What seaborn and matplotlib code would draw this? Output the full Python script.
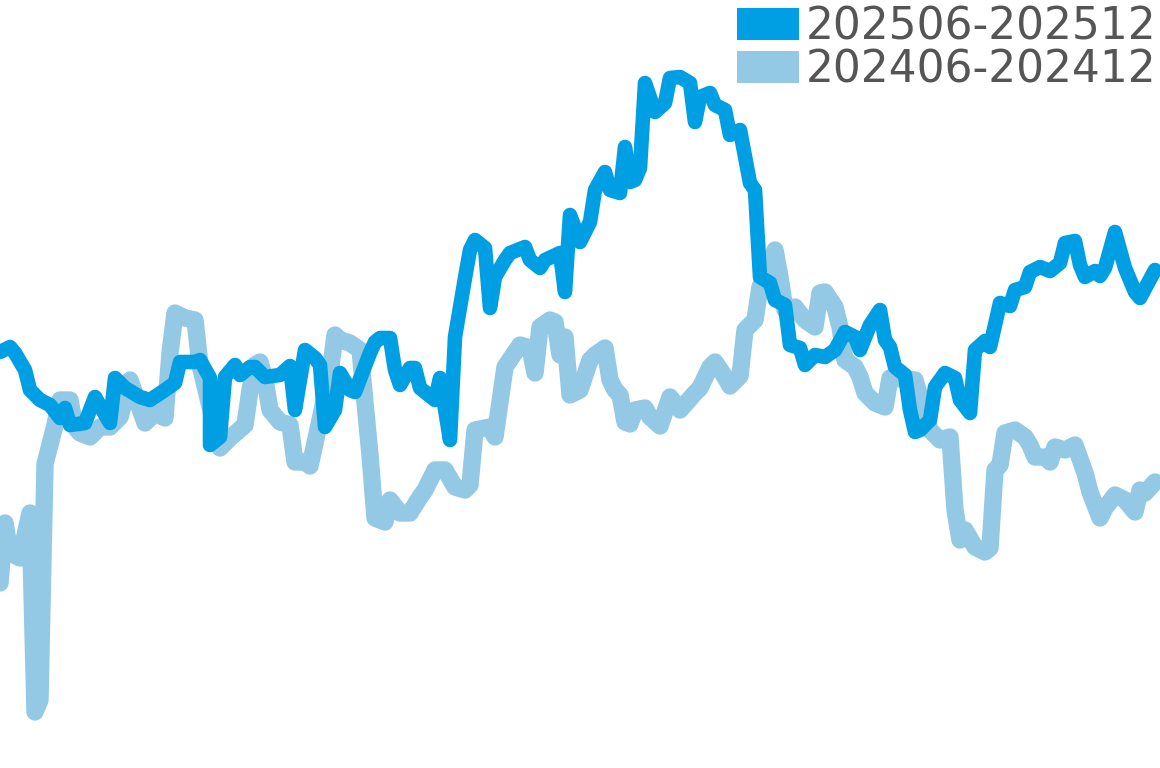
import pandas as pd
import seaborn as sns
import matplotlib.pyplot as plt
from matplotlib.patches import Patch

# day offset from start of period, and index value
days_2025 = [0, 2, 3, 5, 6, 8, 10, 12, 13, 14, 17, 19, 22, 23, 25, 28, 30, 33, 35, 36,
             39, 40, 42, 42, 44, 45, 47, 48, 50, 51, 53, 56, 58, 59, 61, 63, 64, 65, 67, 68,
             70, 71, 74, 75, 76, 78, 79, 80, 82, 83, 84, 87, 88, 90, 91, 93, 94, 95, 97, 98,
             99, 101, 102, 105, 106, 108, 109, 112, 113, 114, 116, 118, 119, 121, 122, 124, 125, 126, 127, 128,
             129, 131, 133, 134, 136, 138, 139, 140, 142, 143, 145, 146, 148, 150, 151, 152, 154, 155, 157, 158,
             160, 161, 163, 165, 167, 169, 171, 172, 174, 176, 177, 178, 179, 181, 182, 183, 184, 186, 187, 189,
             191, 192, 194, 195, 197, 198, 200, 202, 203, 205, 206, 208, 210, 212, 213, 215, 216, 217, 219, 220,
             221, 223, 225, 227, 228, 231]
vals_2025 = [208, 210.5, 207.5, 199, 189, 184, 181.5, 175, 180, 171.5, 172.5, 185.5, 172.5, 195, 190, 185.5, 184, 189, 192.5, 203,
             203, 204, 195, 161.5, 165.5, 195.5, 201.5, 196.5, 200.5, 200.5, 195.5, 196.5, 201, 179, 209, 205, 201.5, 170.5, 179, 197.5,
             189, 188, 207.5, 213, 215, 215, 199, 191.5, 200, 200, 190, 184, 195, 164, 215.5, 245, 259, 264, 260, 230,
             245.5, 254, 257.5, 260.5, 254, 250, 254, 257.5, 238, 276.5, 263, 273, 289, 298, 289, 287.5, 310.5, 293, 294, 300,
             342.5, 328, 332.5, 345, 345.5, 342.5, 323, 335.5, 337.5, 331.5, 329, 316.5, 319, 292.5, 289, 245.5, 242.5, 234, 231.5, 211.5,
             210, 201.5, 206.5, 205.5, 209, 218, 215.5, 209, 221.5, 229, 214, 210.5, 200.5, 196.5, 179, 168, 169, 174, 190.5, 197.5,
             195, 184, 177.5, 209, 213.5, 210.5, 232.5, 231, 239, 240.5, 248, 250.5, 248.5, 252.5, 262.5, 263.5, 251.5, 245.5, 248.5, 246,
             250, 268, 250, 238, 235, 249]

days_2024 = [0, 1, 2, 4, 6, 7, 8, 9, 11, 12, 14, 15, 16, 18, 20, 22, 24, 26, 29, 31,
             33, 34, 35, 37, 39, 40, 44, 46, 49, 50, 51, 52, 53, 54, 56, 58, 59, 61, 62, 64,
             66, 67, 68, 70, 72, 73, 74, 75, 77, 78, 80, 82, 84, 85, 87, 89, 91, 93, 94, 95,
             98, 99, 101, 104, 106, 107, 108, 110, 111, 112, 113, 114, 116, 118, 119, 121, 122, 123, 124, 125,
             126, 127, 129, 130, 132, 134, 136, 139, 140, 142, 143, 145, 146, 148, 149, 151, 152, 155, 156, 157,
             159, 161, 163, 164, 165, 167, 168, 169, 171, 172, 173, 175, 177, 178, 183, 186, 188, 190, 191, 192,
             193, 195, 197, 198, 199, 200, 201, 203, 205, 206, 207, 209, 210, 211, 213, 215, 217, 218, 219, 220,
             221, 223, 225, 227, 228, 229, 231]
vals_2024 = [92.5, 122.5, 107.5, 105, 127.5, 28, 34, 152, 171.5, 184, 184, 170.5, 167.5, 165.5, 170.5, 170.5, 175.5, 194, 172.5, 177.5,
             175, 207.5, 227.5, 225, 224, 201.5, 160, 165, 171.5, 189, 201.5, 203, 194, 179, 173, 171.5, 153, 153, 151, 174,
             197.5, 216.5, 214, 212.5, 209, 182.5, 156.5, 125, 123, 134, 127.5, 127.5, 135.5, 139, 149, 149, 140.5, 139, 141.5, 169,
             170.5, 165.5, 200.5, 211.5, 210, 197.5, 220.5, 224, 223, 206.5, 215.5, 186.5, 189, 204, 206.5, 210, 194, 189, 186.5, 173,
             172, 179, 180, 175.5, 171, 185.5, 179, 187.5, 190, 200.5, 203, 195.5, 191, 196, 219, 224, 240.5, 259, 245.5, 229,
             230.5, 224, 220.5, 237.5, 238, 230.5, 220.5, 204, 200.5, 195.5, 187.5, 182.5, 180.5, 195, 194, 169, 164, 165.5, 129, 114,
             119, 110.5, 108, 110, 149, 151.5, 167.5, 169, 165.5, 161.5, 155.5, 155.5, 153, 160.5, 159, 161.5, 147.5, 138, 131.5, 125,
             130, 136.5, 134, 128, 139, 137.5, 143]

labels = ["202506-202512", "202406-202412"]
colors = ["#009FE3", "#93C9E4"]

df_new = pd.DataFrame({"day": days_2025, "value": vals_2025, "period": labels[0]})
df_old = pd.DataFrame({"day": days_2024, "value": vals_2024, "period": labels[1]})

sns.set_style("white")
fig = plt.figure(figsize=(11.6, 7.68), dpi=100)
ax = fig.add_axes([0, 0, 1, 1])

# last year's line underneath, current period on top
sns.lineplot(data=df_old, x="day", y="value", color=colors[1], linewidth=12.5,
             estimator=None, sort=False, legend=False, ax=ax,
             solid_capstyle="round", solid_joinstyle="round")
sns.lineplot(data=df_new, x="day", y="value", color=colors[0], linewidth=10.5,
             estimator=None, sort=False, legend=False, ax=ax,
             solid_capstyle="round", solid_joinstyle="round")

ax.set_xlim(0, 232)
ax.set_ylim(0, 384)
ax.axis("off")

handles = [Patch(facecolor=c, edgecolor="none") for c in colors]
ax.legend(handles, labels, loc="upper right", bbox_to_anchor=(0.997, 0.993),
          frameon=False, fontsize=31.6, labelcolor="#555555",
          handlelength=1.42, handleheight=0.73, handletextpad=0.15,
          labelspacing=0.0, borderaxespad=0.0, borderpad=0.0)

fig.savefig("out.png", dpi=100)
